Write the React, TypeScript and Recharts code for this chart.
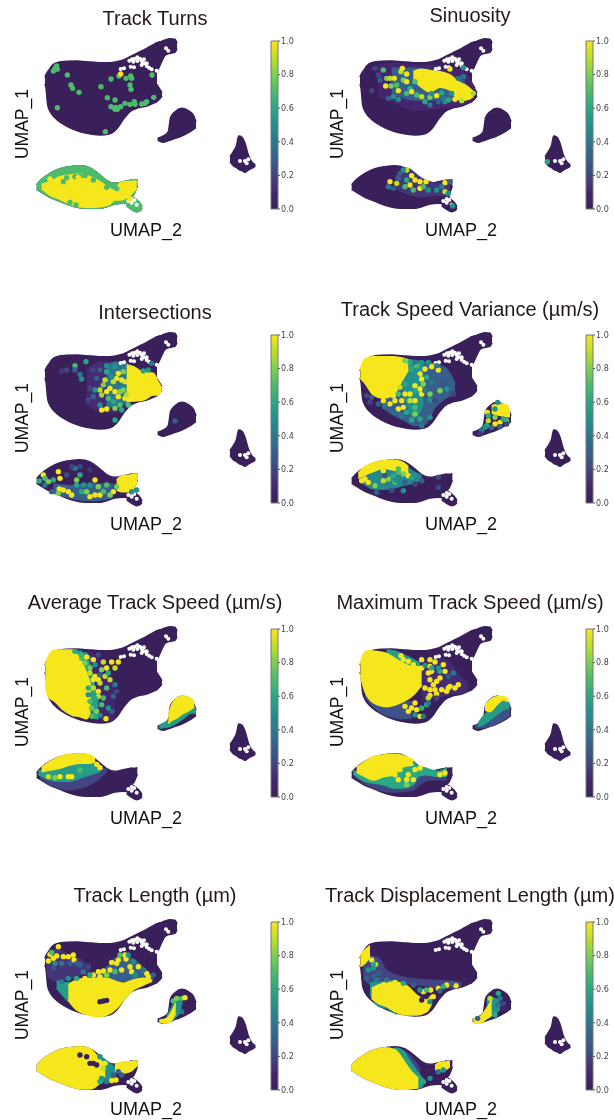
import React from 'react';
import { ComposedChart, BarChart, Bar, Area, Scatter, XAxis, YAxis } from 'recharts';

type Row = number[];
const VIRIDIS = ['#39205a', '#46256f', '#424583', '#365f8c', '#2b788e', '#21918c', '#28a884', '#4cbb6c', '#7ad151', '#bddf26', '#f7e61c'];
const BAR_TICKS = [0, 0.2, 0.4, 0.6, 0.8, 1];

// ---- cluster silhouettes: [umap x, upper edge, lower edge]
const BODY: Row[] = [[135, 232, 252], [138, 224, 264], [143, 215, 315], [147, 210, 328], [155, 198, 342], [170, 188, 358], [200, 184, 378], [230, 183, 392], [260, 185, 400], [300, 188, 405], [330, 188, 401], [350, 185, 387], [370, 180, 358], [390, 170, 335], [410, 160, 325], [440, 145, 318], [471, 128, 305]];
const BODY_TIP: Row[] = [[468, 250, 306], [476, 262, 300], [486, 278, 288]];
const HEAD: Row[] = [[465, 132, 222], [472, 128, 212], [485, 124, 185], [495, 120, 166], [510, 116, 160], [525, 118, 157], [531, 130, 145]];
const BLOB: Row[] = [[473, 415, 420], [490, 408, 427], [505, 395, 422], [512, 352, 420], [525, 335, 415], [545, 325, 408], [565, 332, 398], [580, 345, 388], [588, 365, 382]];
const CELL: Row[] = [[690, 470, 485], [700, 455, 497], [710, 435, 503], [716, 408, 508], [726, 412, 512], [735, 430, 517], [745, 465, 510], [755, 485, 505], [766, 495, 498]];
const FISH: Row[] = [[110, 554, 568], [125, 538, 577], [150, 520, 592], [180, 506, 604], [210, 500, 616], [240, 497, 623], [270, 504, 625], [300, 525, 625], [320, 542, 620], [345, 550, 612], [370, 545, 610], [395, 541, 612]];
const FISH_FIN: Row[] = [[390, 541, 590], [400, 541, 585], [412, 539, 558]];
const FISH_TAIL: Row[] = [[380, 600, 618], [395, 590, 628], [410, 600, 635], [420, 610, 632], [426, 620, 625]];
const HOLES: Row[] = [[388, 182], [396, 178], [404, 176], [412, 172], [420, 176], [400, 185], [412, 183], [425, 183], [432, 178], [432, 190], [440, 190], [440, 198], [447, 203], [425, 195], [392, 200], [402, 202], [362, 207], [372, 205], [455, 208], [498, 145], [505, 152], [470, 212], [385, 603], [395, 608], [403, 600], [395, 597], [410, 614], [720, 483], [735, 483], [745, 478], [740, 490]];

// ---- panel 1: Track Turns
const TURNS_FISH: Row[] = [[125, 553, 565], [150, 545, 585], [180, 530, 598], [210, 525, 612], [240, 522, 620], [270, 530, 622], [300, 545, 620], [330, 565, 612], [345, 570, 600], [360, 548, 600], [385, 545, 590], [410, 543, 565]];
const TURNS_DOTS: Row[] = [[165, 205, .7], [160, 213, .7], [170, 198, .7], [172, 208, .7], [202, 225, .7], [213, 255, .7], [218, 265, .7], [237, 277, .7], [172, 323, .7], [303, 260, .7], [322, 293, .7], [345, 300, .7], [333, 320, .7], [347, 322, .7], [352, 328, .7], [345, 328, .7], [362, 320, .7], [375, 310, .7], [390, 313, .7], [403, 305, .7], [405, 313, .7], [425, 312, .7], [435, 310, .7], [440, 305, .7], [461, 292, .7], [333, 237, .7], [357, 228, .7], [378, 235, .7], [392, 228, .7], [395, 235, .7], [390, 255, .7], [393, 268, .7], [456, 225, .7], [316, 395, .7], [362, 222, 1], [190, 545, .7], [225, 530, .7], [255, 527, .7], [280, 540, .7], [320, 562, .7], [340, 560, .7], [350, 566, .7], [210, 607, .7], [228, 615, .7], [200, 533, .7], [240, 528, .7], [150, 537, 1], [235, 533, 1], [390, 596, 1]];

// ---- panel 2: Sinuosity
const SINU_LOW: Row[] = [[190, 195, 290], [230, 190, 305], [300, 195, 330], [400, 200, 320], [450, 220, 310], [480, 265, 295]];
const SINU_MID: Row[] = [[230, 205, 280], [300, 205, 300], [400, 225, 300], [450, 245, 300]];
const SINU_FISH: Row[] = [[240, 530, 565], [275, 505, 580], [320, 535, 590], [370, 550, 585], [405, 545, 590]];
const SINU_CORE: Row[] = [[295, 215, 240], [320, 208, 262], [345, 212, 275], [375, 215, 262], [405, 225, 270], [430, 245, 298], [450, 255, 300], [475, 275, 290]];
const SINU_DOTS: Row[] = [[205, 210, .7], [215, 235, .8], [212, 258, 1], [225, 235, .9], [238, 235, 1], [245, 255, .7], [228, 258, .8], [250, 272, 1], [265, 240, .8], [275, 245, 1], [285, 265, .6], [258, 215, .9], [262, 205, 1], [275, 222, 1], [290, 275, 1], [305, 285, .7], [320, 290, .9], [345, 292, .8], [365, 287, 1], [235, 290, .5], [220, 295, .3], [250, 298, .5], [275, 280, .7], [300, 245, .7], [345, 315, .4], [390, 305, .5], [420, 298, 1], [440, 302, .9], [460, 292, 1], [445, 203, .5], [405, 207, 1], [180, 205, .2], [170, 272, .2], [195, 240, .3], [190, 225, .2], [385, 295, .4], [445, 230, .4], [430, 235, .4], [475, 280, .85], [410, 280, .5], [370, 305, .3], [400, 300, .6], [330, 305, .6], [350, 280, .5], [380, 278, .6], [225, 545, 1], [245, 550, .9], [275, 510, .9], [290, 527, 1], [300, 540, 1], [315, 545, 1], [333, 545, 1], [315, 565, 1], [285, 555, 1], [390, 548, 1], [390, 575, .9], [265, 510, .5], [255, 520, .3], [275, 540, .6], [295, 570, .7], [340, 570, .5], [365, 570, .5], [405, 545, .3], [400, 580, .5], [413, 618, .5], [250, 535, .3], [220, 560, .4], [235, 565, .3], [380, 560, .4], [325, 560, .7], [270, 560, .7], [697, 485, .6]];

// ---- panel 3: Intersections
const INTER_LOW: Row[] = [[260, 225, 330], [300, 205, 350], [340, 205, 355], [385, 205, 335]];
const INTER_MID: Row[] = [[320, 215, 340], [350, 205, 335], [385, 210, 325]];
const INTER_FISH: Row[] = [[160, 570, 595], [210, 575, 612], [280, 570, 620], [340, 570, 610]];
const INTER_CORE: Row[] = [[380, 213, 323], [400, 218, 321], [430, 235, 318], [460, 238, 303], [475, 265, 303], [485, 281, 286]];
const INTER_FIN: Row[] = [[350, 558, 588], [365, 546, 593], [390, 543, 593], [412, 540, 563]];
const INTER_DOTS: Row[] = [[225, 215, .7], [258, 203, .6], [225, 228, .3], [240, 241, .4], [245, 255, .5], [185, 231, .15], [200, 228, .2], [280, 228, .2], [300, 228, .3], [320, 233, .6], [320, 215, .5], [345, 218, .5], [355, 238, 1], [350, 253, 1], [365, 258, 1], [340, 263, .9], [315, 258, .9], [310, 273, .8], [300, 288, .9], [320, 293, 1], [330, 283, 1], [305, 303, .85], [325, 313, .7], [345, 293, 1], [360, 293, .8], [355, 308, 1], [370, 288, .8], [375, 313, 1], [360, 333, .7], [365, 348, .6], [345, 343, .8], [320, 345, 1], [305, 348, 1], [300, 333, .5], [280, 308, .3], [265, 318, .2], [285, 288, .5], [345, 378, .6], [270, 283, .2], [290, 253, .3], [335, 248, .5], [455, 208, .4], [445, 228, .5], [430, 231, .6], [525, 381, .3], [370, 233, .8], [375, 263, .95], [380, 303, .9], [340, 323, .6], [385, 333, .7], [130, 543, 1], [118, 561, .6], [135, 553, .7], [160, 558, .6], [145, 563, .8], [175, 533, 1], [180, 553, 1], [178, 585, 1], [190, 588, 1], [205, 593, 1], [215, 603, 1], [175, 598, .8], [230, 558, .8], [230, 573, .6], [225, 523, .4], [240, 518, .2], [270, 528, .15], [285, 558, 1], [295, 578, .8], [285, 603, 1], [300, 603, 1], [270, 608, 1], [245, 593, .6], [260, 593, .8], [320, 573, .7], [340, 593, 1], [330, 603, .8], [350, 578, .8], [310, 593, .7], [200, 543, .2], [250, 573, .5], [270, 573, .5], [155, 593, .3], [135, 573, .4], [395, 593, .5], [410, 588, .5], [240, 543, .6], [215, 518, .2]];

// ---- panel 4: Track Speed Variance
const VAR_LOW: Row[] = [[200, 305, 340], [240, 290, 365], [270, 200, 380], [300, 200, 395], [330, 205, 390], [360, 210, 340], [395, 225, 310], [420, 270, 300]];
const VAR_MID: Row[] = [[265, 195, 300], [300, 200, 370], [325, 205, 330]];
const VAR_MAIN: Row[] = [[136, 228, 253], [150, 195, 268], [175, 188, 303], [205, 188, 313], [235, 188, 303], [265, 193, 253], [280, 198, 228]];
const VAR_BLOB: Row[] = [[530, 335, 358], [550, 330, 363], [575, 333, 368], [585, 353, 368]];
const VAR_FISH_LOW: Row[] = [[140, 550, 565], [180, 530, 585], [220, 515, 585], [260, 515, 575], [300, 535, 565], [320, 545, 555]];
const VAR_FISH: Row[] = [[130, 538, 553], [150, 518, 543], [175, 506, 533], [205, 500, 523], [235, 498, 528], [260, 503, 533], [280, 518, 538]];
const VAR_DOTS: Row[] = [[205, 320, 1], [225, 330, 1], [240, 320, 1], [250, 345, 1], [265, 340, 1], [270, 300, 1], [285, 300, 1], [300, 275, 1], [315, 240, 1], [320, 255, 1], [330, 225, 1], [350, 218, 1], [370, 228, 1], [300, 320, 1], [260, 320, 1], [235, 305, 1], [215, 300, 1], [270, 270, .6], [285, 260, .5], [290, 225, .6], [305, 215, .7], [305, 250, .5], [335, 250, .6], [350, 265, .4], [375, 255, .3], [395, 285, .5], [375, 290, .8], [345, 300, .8], [345, 318, .5], [320, 300, 1], [300, 340, .7], [290, 378, .6], [315, 375, .6], [320, 395, .4], [300, 360, .8], [275, 355, .6], [260, 365, .4], [240, 355, .35], [210, 335, .4], [190, 330, .3], [170, 310, .3], [165, 325, .2], [155, 305, .2], [285, 205, .6], [270, 200, .8], [300, 205, .4], [320, 205, .5], [340, 205, .5], [365, 215, .4], [325, 270, .8], [315, 285, 1], [330, 290, .4], [250, 300, .7], [255, 280, .9], [245, 260, 1], [360, 320, .2], [345, 370, .5], [400, 260, .3], [415, 300, .2], [385, 270, .25], [230, 345, .3], [300, 290, .6], [285, 320, .9], [517, 355, 1], [520, 380, .9], [515, 395, .6], [540, 370, .8], [540, 390, 1], [555, 385, 1], [575, 380, .7], [565, 375, .6], [520, 365, .6], [500, 410, .4], [510, 400, .5], [530, 400, .35], [548, 325, .5], [540, 345, .5], [555, 398, .3], [495, 420, .15], [575, 390, .2], [140, 560, 1], [160, 565, 1], [150, 555, 1], [205, 530, 1], [205, 560, .9], [235, 545, .6], [250, 535, .7], [265, 540, .8], [280, 545, 1], [240, 565, .7], [220, 555, .8], [200, 580, .5], [185, 595, .3], [265, 590, .5], [245, 560, .5], [290, 550, .6], [250, 525, .7], [300, 545, .5], [185, 550, .5], [180, 575, .8], [210, 545, .25], [270, 565, .3], [300, 570, .2], [370, 550, .2], [370, 580, .2], [230, 590, .2], [320, 560, .3]];

// ---- panel 5: Average Track Speed
const AVG_FAR: Row[] = [[255, 190, 215], [280, 200, 260], [300, 220, 390], [330, 260, 400], [345, 340, 385]];
const AVG_BAND: Row[] = [[215, 186, 200], [240, 192, 225], [262, 205, 270], [280, 280, 380], [295, 340, 395]];
const AVG_MAIN: Row[] = [[136, 232, 290], [145, 206, 326], [165, 186, 341], [190, 186, 366], [215, 186, 381], [240, 211, 386], [260, 256, 392], [272, 290, 375]];
const AVG_BLOB_MID: Row[] = [[478, 412, 420], [510, 395, 415], [545, 370, 395], [575, 355, 375], [588, 365, 375]];
const AVG_BLOB: Row[] = [[505, 386, 406], [515, 351, 398], [530, 331, 390], [550, 324, 376], [570, 329, 366], [583, 341, 356]];
const AVG_FISH_LOW: Row[] = [[120, 555, 570], [150, 560, 590], [180, 565, 600], [210, 565, 605], [240, 560, 600], [270, 550, 590], [300, 540, 570], [320, 545, 550]];
const AVG_FISH_MID: Row[] = [[115, 550, 560], [150, 535, 575], [180, 530, 580], [210, 520, 580], [240, 515, 570], [270, 515, 560], [300, 530, 550]];
const AVG_FISH: Row[] = [[125, 539, 551], [150, 521, 546], [180, 506, 541], [210, 499, 531], [240, 497, 526], [270, 501, 526], [285, 511, 521]];
const AVG_DOTS: Row[] = [[225, 190, .6], [240, 195, .55], [255, 200, .5], [265, 210, .4], [245, 210, .7], [255, 225, .8], [260, 207, 1], [280, 215, 1], [310, 222, .9], [335, 222, 1], [355, 222, 1], [345, 240, .9], [320, 240, 1], [305, 245, .8], [285, 230, .5], [270, 240, .8], [270, 255, .9], [285, 265, 1], [295, 275, 1], [280, 275, 1], [300, 285, .9], [315, 265, .9], [330, 275, .9], [325, 255, .6], [345, 290, .4], [320, 300, .7], [295, 310, 1], [295, 325, .9], [310, 330, .7], [285, 330, .6], [305, 350, .7], [290, 370, .8], [300, 382, .5], [285, 385, .6], [275, 385, .7], [318, 392, 1], [325, 360, .5], [335, 370, .3], [350, 310, .2], [340, 325, .3], [265, 300, .6], [265, 320, .5], [270, 340, .7], [275, 360, .75], [280, 300, .9], [245, 200, .65], [295, 200, .2], [300, 260, .3], [180, 566, 1], [205, 566, 1], [215, 566, 1], [290, 529, 1], [300, 539, 1], [145, 566, .9], [165, 569, .8], [240, 546, .7]];

// ---- panel 6: Maximum Track Speed
const MAX_RIGHT: Row[] = [[320, 225, 340], [360, 210, 330], [400, 220, 320], [440, 270, 315], [460, 290, 310]];
const MAX_LOW: Row[] = [[150, 300, 325], [170, 330, 350], [195, 350, 372], [225, 355, 385], [260, 345, 392], [290, 340, 390]];
const MAX_TOP: Row[] = [[215, 186, 205], [240, 190, 220], [265, 200, 240], [295, 215, 250], [315, 225, 255]];
const MAX_MAIN: Row[] = [[136, 226, 261], [150, 191, 311], [165, 188, 336], [190, 191, 351], [215, 196, 356], [240, 211, 351], [265, 226, 341], [295, 236, 321], [320, 236, 291]];
const MAX_BLOB_LOW: Row[] = [[480, 413, 420], [510, 400, 418], [540, 380, 410], [565, 360, 395], [585, 355, 380]];
const MAX_BLOB_MID: Row[] = [[490, 405, 415], [505, 385, 410], [525, 365, 395], [545, 345, 380], [565, 335, 365], [583, 345, 360]];
const MAX_BLOB: Row[] = [[510, 351, 366], [525, 336, 371], [545, 326, 351], [565, 326, 336], [580, 336, 341]];
const MAX_FISH_LOW: Row[] = [[120, 553, 565], [175, 570, 600], [235, 585, 612], [295, 560, 605], [320, 550, 585], [350, 555, 575], [395, 545, 575]];
const MAX_FISH_MID: Row[] = [[115, 548, 558], [150, 560, 580], [205, 565, 590], [235, 555, 600], [265, 530, 600], [295, 525, 590], [310, 535, 565], [330, 540, 560], [370, 550, 565], [395, 540, 565]];
const MAX_FISH: Row[] = [[125, 539, 553], [150, 521, 566], [175, 506, 576], [205, 501, 566], [235, 499, 561], [265, 503, 536], [295, 516, 531]];
const MAX_DOTS: Row[] = [[258, 203, 1], [265, 215, 1], [280, 220, 1], [295, 230, 1], [320, 215, 1], [345, 215, 1], [360, 222, 1], [345, 235, 1], [320, 240, 1], [385, 230, 1], [390, 250, 1], [340, 255, 1], [365, 280, 1], [345, 275, 1], [355, 290, 1], [380, 305, 1], [395, 310, 1], [405, 295, 1], [420, 300, 1], [430, 290, 1], [360, 305, 1], [305, 365, 1], [280, 370, 1], [315, 385, 1], [345, 322, 1], [365, 318, 1], [340, 330, .9], [335, 350, .6], [320, 360, .6], [325, 385, .4], [400, 300, 1], [375, 270, 1], [350, 250, 1], [330, 300, 1], [345, 305, 1], [300, 345, 1], [290, 360, 1], [270, 355, 1], [375, 250, .6], [400, 265, .3], [415, 255, .4], [350, 240, .6], [330, 232, .5], [370, 240, .5], [300, 380, .5], [340, 345, .4], [365, 330, .2], [240, 560, 1], [255, 545, 1], [250, 575, 1], [280, 560, 1], [275, 575, 1], [295, 575, 1], [275, 590, .8], [375, 560, 1], [390, 555, 1], [300, 545, 1], [315, 540, 1]];

// ---- panel 7: Track Length
const LEN_LEFT: Row[] = [[140, 225, 285], [170, 205, 300], [210, 225, 295], [250, 240, 280], [270, 260, 280]];
const LEN_RIGHT: Row[] = [[280, 285, 295], [320, 260, 295], [360, 225, 300], [400, 235, 300], [440, 270, 298], [460, 290, 300]];
const LEN_LOW: Row[] = [[170, 300, 320], [190, 305, 345], [210, 305, 365], [230, 300, 385], [250, 300, 395]];
const LEN_MAIN: Row[] = [[205, 312, 357], [230, 297, 387], [260, 292, 400], [290, 292, 407], [320, 292, 402], [350, 302, 382], [370, 307, 357], [400, 297, 327], [430, 292, 312], [455, 297, 302]];
const LEN_BLOB_MID: Row[] = [[500, 405, 425], [515, 380, 420], [530, 355, 405], [545, 365, 390]];
const LEN_BLOB: Row[] = [[478, 417, 422], [500, 412, 427], [515, 392, 417], [527, 367, 397]];
const LEN_FISH_MID: Row[] = [[290, 520, 612], [320, 540, 600], [345, 560, 600]];
const LEN_FISH: Row[] = [[110, 554, 568], [125, 538, 577], [150, 520, 592], [180, 506, 604], [210, 500, 616], [240, 497, 623], [270, 504, 624], [295, 530, 610], [315, 552, 582]];
const LEN_FIN: Row[] = [[345, 552, 572], [365, 544, 577], [390, 542, 572], [412, 540, 552]];
const LEN_DOTS: Row[] = [[150, 220, 1], [145, 240, 1], [160, 232, 1], [175, 197, 1], [170, 225, 1], [190, 227, 1], [205, 227, 1], [220, 222, 1], [222, 237, 1], [280, 282, 1], [295, 272, 1], [310, 270, 1], [330, 267, 1], [335, 244, 1], [350, 247, 1], [375, 222, 1], [378, 234, 1], [355, 237, 1], [390, 257, 1], [395, 272, 1], [415, 257, 1], [440, 277, 1], [365, 267, 1], [445, 287, 1], [280, 302, 1], [300, 287, 1], [255, 292, 1], [155, 214, .7], [165, 247, .5], [185, 247, .4], [210, 247, .3], [240, 252, .3], [230, 247, .3], [265, 257, .2], [160, 262, .25], [185, 302, .4], [205, 292, .5], [230, 292, .6], [360, 222, .7], [400, 242, .5], [385, 222, .5], [345, 272, .7], [405, 282, .5], [430, 267, .4], [460, 282, .3], [250, 272, .4], [175, 282, .15], [270, 282, .6], [320, 282, .8], [300, 362, 0], [310, 360, 0], [320, 358, 0], [520, 360, .7], [530, 352, .8], [545, 352, .7], [555, 350, 1], [545, 392, .4], [540, 367, .5], [270, 547, 0], [280, 547, 0], [290, 552, 0], [260, 527, 0], [240, 522, 0], [315, 547, 1], [330, 572, .5], [335, 599, 1], [348, 597, 1], [320, 602, .4], [305, 592, .5], [310, 562, .9], [340, 582, .3], [355, 572, .3], [365, 582, .3], [300, 527, .5], [300, 602, .6]];

// ---- panel 8: Track Displacement Length
const DISP_BACK: Row[] = [[145, 240, 290], [165, 225, 310], [190, 230, 305], [215, 270, 300], [300, 295, 310], [400, 300, 320], [440, 305, 318]];
const DISP_LOW: Row[] = [[165, 305, 340], [190, 305, 375], [215, 300, 382], [245, 300, 400]];
const DISP_MAIN: Row[] = [[170, 322, 352], [190, 312, 367], [215, 304, 377], [245, 304, 394], [275, 314, 402], [305, 342, 402], [335, 357, 392], [350, 342, 367]];
const DISP_LEFT: Row[] = [[136, 222, 257], [150, 207, 247], [165, 194, 227]];
const DISP_BLOB_MID: Row[] = [[515, 360, 415], [530, 350, 405], [545, 355, 395], [555, 370, 385]];
const DISP_BLOB: Row[] = [[475, 414, 427], [495, 407, 427], [515, 382, 412], [530, 357, 402]];
const DISP_FISH_LOW: Row[] = [[255, 505, 540], [275, 515, 570], [295, 535, 595], [315, 565, 610]];
const DISP_FISH_MID: Row[] = [[235, 502, 510], [245, 502, 560], [265, 510, 590], [285, 540, 610], [305, 570, 622], [325, 595, 615]];
const DISP_FISH: Row[] = [[110, 554, 568], [125, 538, 577], [150, 520, 592], [180, 506, 604], [210, 500, 616], [240, 507, 623], [265, 537, 625], [285, 567, 624], [310, 592, 620]];
const DISP_FIN: Row[] = [[360, 554, 564], [375, 544, 572], [405, 542, 557]];
const DISP_DOTS: Row[] = [[182, 250, .9], [170, 237, 1], [160, 267, .5], [175, 250, .6], [175, 262, .5], [190, 277, .3], [155, 292, .3], [175, 285, .3], [190, 295, .3], [185, 297, .4], [215, 297, .4], [240, 304, 1], [265, 307, .6], [295, 312, .3], [325, 332, 1], [347, 327, 1], [370, 322, 1], [395, 312, 1], [423, 314, 1], [355, 347, 1], [335, 327, .7], [385, 317, .6], [410, 307, .3], [375, 330, .3], [315, 327, .5], [345, 362, .5], [320, 357, 0], [555, 352, .4], [550, 337, .6], [550, 372, .4], [565, 367, .2], [565, 382, .1], [488, 412, .3], [540, 402, .6], [525, 352, .9], [345, 592, .5], [325, 602, .6], [370, 572, .4], [385, 567, .5]];

// ---- panel labels and layers
const TITLES = ['Track Turns', 'Sinuosity', 'Intersections', 'Track Speed Variance (µm/s)', 'Average Track Speed (µm/s)', 'Maximum Track Speed (µm/s)', 'Track Length (µm)', 'Track Displacement Length (µm)'];
const LAYERS: [Row[], number][][] = [
  [[FISH, .7], [FISH_FIN, .7], [FISH_TAIL, .7], [TURNS_FISH, 1]],
  [[SINU_LOW, .1], [SINU_MID, .3], [SINU_FISH, .15], [SINU_CORE, 1]],
  [[INTER_LOW, .12], [INTER_MID, .4], [INTER_FISH, .3], [INTER_CORE, 1], [INTER_FIN, 1]],
  [[VAR_LOW, .3], [VAR_MID, .5], [VAR_MAIN, 1], [VAR_BLOB, 1], [VAR_FISH_LOW, .45], [VAR_FISH, 1]],
  [[AVG_FAR, .1], [AVG_BAND, .55], [AVG_MAIN, 1], [AVG_BLOB_MID, .55], [AVG_BLOB, 1], [AVG_FISH_LOW, .2], [AVG_FISH_MID, .55], [AVG_FISH, 1]],
  [[MAX_RIGHT, .12], [MAX_LOW, .25], [MAX_TOP, .55], [MAX_MAIN, 1], [MAX_BLOB_LOW, .25], [MAX_BLOB_MID, .55], [MAX_BLOB, 1], [MAX_FISH_LOW, .2], [MAX_FISH_MID, .6], [MAX_FISH, 1]],
  [[LEN_LEFT, .15], [LEN_RIGHT, .3], [LEN_LOW, .55], [LEN_MAIN, 1], [LEN_BLOB_MID, .5], [LEN_BLOB, 1], [LEN_FISH_MID, .5], [LEN_FISH, 1], [LEN_FIN, 1]],
  [[DISP_BACK, .2], [DISP_LOW, .5], [DISP_MAIN, 1], [DISP_LEFT, 1], [DISP_BLOB_MID, .5], [DISP_BLOB, 1], [DISP_FISH_LOW, .2], [DISP_FISH_MID, .55], [DISP_FISH, 1], [DISP_FIN, 1]],
];
const DOTS = [TURNS_DOTS, SINU_DOTS, INTER_DOTS, VAR_DOTS, AVG_DOTS, MAX_DOTS, LEN_DOTS, DISP_DOTS];
const SILHOUETTES = [BODY, BODY_TIP, HEAD, BLOB, CELL, FISH, FISH_FIN, FISH_TAIL];
const ROW_TOPS = [0, 294, 588, 881];
const COL_LEFTS = [0, 315];
const TITLE_Y = [25, 21.5, 25, 22, 21, 21, 21, 21];
const AXIS_NAME_Y = [235.5, 235.5, 235.5, 234];

function blend(v: number) {
  const i = Math.floor(v * 10);
  const a = VIRIDIS[i], b = VIRIDIS[Math.min(i + 1, 10)], t = v * 10 - i;
  const ch = (s: string, k: number) => parseInt(s.slice(k, k + 2), 16);
  const m = (k: number) => Math.round(ch(a, k) * (1 - t) + ch(b, k) * t);
  return `rgb(${m(1)},${m(3)},${m(5)})`;
}
const toArea = (rows: Row[]) => rows.map(([x, lo, hi]) => ({ x, band: [lo, hi] }));
const toDots = (rows: Row[]) => rows.map(([x, y, v]) => ({ x, y, v: v ?? -1 }));

function region(rows: Row[], fill: string, key: string) {
  return <Area key={key} data={toArea(rows)} dataKey="band" type="monotone" fill={fill} fillOpacity={1} stroke={fill} strokeWidth={1.5} dot={false} activeDot={false} isAnimationActive={false} legendType="none" />;
}

function ColourBar({ id }: { id: string }) {
  return (
    <BarChart width={34} height={180} data={[{ c: 'scale', v: 1 }]} margin={{ top: 6, bottom: 6, left: 1, right: 0 }} barCategoryGap={0}>
      <defs>
        <linearGradient id={id} x1="0" y1="1" x2="0" y2="0">
          {VIRIDIS.map((c, i) => <stop key={i} offset={i / 10} stopColor={c} />)}
        </linearGradient>
      </defs>
      <XAxis dataKey="c" hide />
      <YAxis orientation="right" width={26} domain={[0, 1]} ticks={BAR_TICKS} tickFormatter={(t: number) => t.toFixed(1)} tickLine={{ stroke: '#555' }} tickSize={2} tickMargin={1} axisLine={false} interval={0} tick={{ fontSize: 8, fontFamily: 'DejaVu Sans', fill: '#444' }} />
      <Bar dataKey="v" fill={`url(#${id})`} stroke="#777" strokeWidth={1} isAnimationActive={false} />
    </BarChart>
  );
}

function Panel({ index }: { index: number }) {
  const left = COL_LEFTS[index % 2];
  const row = Math.floor(index / 2);
  const top = ROW_TOPS[row];
  const dotShape = (p: any) => {
    const v = p.payload?.v ?? 0;
    return <circle cx={p.cx} cy={p.cy} r={2.7} fill={blend(Math.min(v, 0.999))} />;
  };
  return (
    <div style={{ position: 'absolute', left, top, width: 307, height: 245 }}>
      <ComposedChart width={307} height={245} margin={{ top: 0, right: 0, bottom: 0, left: 0 }}>
        <XAxis dataKey="x" type="number" domain={[0, 921]} hide allowDataOverflow />
        <YAxis type="number" domain={[0, 735]} reversed hide allowDataOverflow />
        {SILHOUETTES.map((rows, i) => region(rows, VIRIDIS[0], `s${i}`))}
        {LAYERS[index].map(([rows, v], i) => region(rows, blend(Math.min(v, 0.999)), `l${i}`))}
        <Scatter data={toDots(HOLES)} dataKey="y" isAnimationActive={false} shape={(p: any) => <circle cx={p.cx} cy={p.cy} r={2} fill="#fff" />} />
        <Scatter data={toDots(DOTS[index])} dataKey="y" isAnimationActive={false} shape={dotShape} />
        <text x={155} y={TITLE_Y[index]} textAnchor="middle" fontFamily="Liberation Sans" fontSize={20} fill="#231815">{TITLES[index]}</text>
        <text x={146} y={AXIS_NAME_Y[row]} textAnchor="middle" fontFamily="Liberation Sans" fontSize={18} fill="#111">UMAP_2</text>
        <text x={0} y={0} transform="translate(28,124) rotate(-90)" textAnchor="middle" fontFamily="Liberation Sans" fontSize={17.5} fill="#111">UMAP_1</text>
      </ComposedChart>
      <div style={{ position: 'absolute', left: 270, top: 35 }}>
        <ColourBar id={`viridis${index}`} />
      </div>
    </div>
  );
}

export default function App() {
  return (
    <div style={{ position: 'absolute', left: 0, top: 0, width: 614, height: 1120, overflow: 'hidden', background: '#fff', filter: 'blur(0.5px)' }}>
      {TITLES.map((_, i) => <Panel key={i} index={i} />)}
    </div>
  );
}
